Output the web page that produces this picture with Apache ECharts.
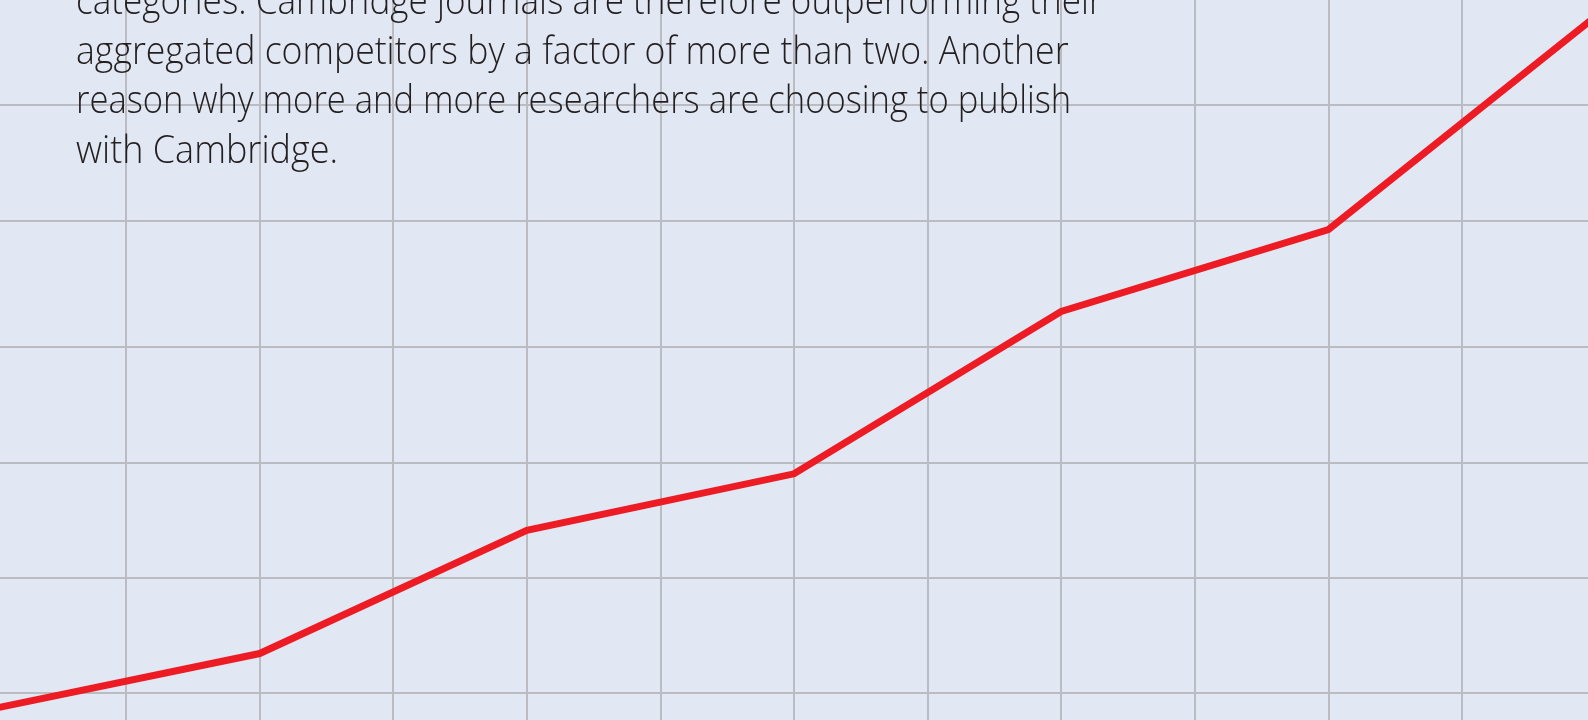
<!DOCTYPE html>
<html>
<head>
<meta charset="utf-8">
<script src="https://cdn.jsdelivr.net/npm/echarts@6/dist/echarts.min.js"></script>
<style>
  html, body { margin: 0; padding: 0; background: #e1e7f3; }
  #chart { width: 1588px; height: 720px; }
</style>
</head>
<body>
<div id="chart"></div>
<script>
// x positions of the plotted points (one per period)
const pointX = [0, 1, 2, 3, 4, 5, 6];
// Cambridge line values (arbitrary units)
const cupValues = [0.86, 1.34, 2.41, 2.90, 4.31, 5.02, 6.87];
// gridlines as they sit in the picture
const xGridValues = [0.5, 1, 1.5, 2, 2.5, 3, 3.5, 4, 4.5, 5, 5.5];
const yGridValues = [1, 2, 3, 4, 5.1, 6.1];
// the paragraph laid over the chart
const textLines = [
  'categories. Cambridge journals are therefore outperforming their',
  'aggregated competitors by a factor of more than two. Another',
  'reason why more and more researchers are choosing to publish',
  'with Cambridge.'
];
// squeeze per line so the substitute font keeps the original line lengths
const lineSqueeze = [0.923, 0.9375, 0.909, 0.947];

const chart = echarts.init(document.getElementById('chart'));

const gridColor = '#babcc2';

chart.setOption({
  backgroundColor: '#e1e7f3',
  animation: false,
  grid: { left: 0, right: 0, top: 0, bottom: 0 },
  xAxis: {
    type: 'value',
    min: 0.0284,
    max: 5.9716,
    axisLine: { show: false },
    axisTick: { show: false, customValues: xGridValues },
    axisLabel: { show: false },
    splitLine: { show: true, lineStyle: { color: gridColor, width: 2 } }
  },
  yAxis: {
    type: 'value',
    min: 0.763,
    max: 7.013,
    axisLine: { show: false },
    axisTick: { show: false, customValues: yGridValues },
    axisLabel: { show: false },
    splitLine: { show: true, lineStyle: { color: gridColor, width: 2 } }
  },
  series: [
    {
      type: 'line',
      data: pointX.map((x, i) => [x, cupValues[i]]),
      symbol: 'none',
      clip: true,
      lineStyle: { color: '#ed1c24', width: 7, join: 'miter' },
      z: 3
    }
  ],
  graphic: textLines.map((t, i) => ({
    type: 'text',
    x: 76,
    y: -15.4 + i * 49.4,
    scaleX: lineSqueeze[i],
    z: 10,
    style: {
      text: t,
      fill: '#231f20',
      font: '300 38px "Open Sans"'
    }
  }))
});
</script>
</body>
</html>
